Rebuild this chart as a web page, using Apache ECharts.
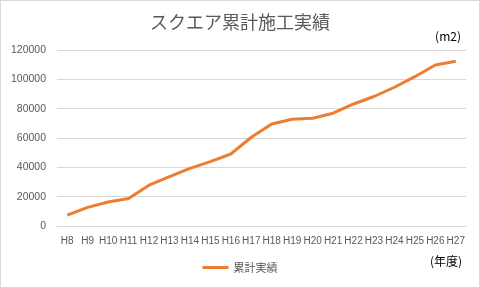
<!DOCTYPE html>
<html><head><meta charset="utf-8">
<script src="https://cdn.jsdelivr.net/npm/echarts@6/dist/echarts.min.js"></script>
<style>
html,body{margin:0;padding:0;background:#fff;}
#c{position:absolute;left:0;top:0;width:478px;height:286px;border:1px solid #d9d9d9;}
</style></head>
<body><div id="c"></div>
<script>
var categories = ['H8','H9','H10','H11','H12','H13','H14','H15','H16','H17','H18','H19','H20','H21','H22','H23','H24','H25','H26','H27'];
var cumulative = [7400,12700,16400,18800,27800,33600,39300,43900,49100,60500,69500,72800,73500,76900,83200,88300,94600,101800,109800,112300];
var seriesName = '累計実績';
var titleText = 'スクエア累計施工実績';
var yUnit = '(m2)';
var xUnit = '(年度)';

var chart = echarts.init(document.getElementById('c'), null, {renderer:'canvas'});
var font = '"Noto Sans CJK JP","Noto Sans",sans-serif';
chart.setOption({
  animation:false,
  textStyle:{fontFamily:font},
  title:{text:titleText,left:'center',top:7,textStyle:{fontSize:18,fontWeight:'normal',color:'#595959',fontFamily:font}},
  grid:{left:56,right:13,top:49,bottom:61},
  legend:{data:[seriesName],bottom:9,left:'center',itemWidth:26,itemHeight:3,icon:'rect',textStyle:{fontSize:11,color:'#595959'}},
  graphic:[
    {type:'text',right:18,top:29,style:{text:yUnit,fontSize:12,fill:'#000',fontFamily:font}},
    {type:'text',right:17,top:254,style:{text:xUnit,fontSize:12,fill:'#000',fontFamily:font}}
  ],
  xAxis:{type:'category',data:categories,boundaryGap:true,
    axisLine:{lineStyle:{color:'#d9d9d9'}},axisTick:{show:false},
    axisLabel:{interval:0,fontSize:10,color:'#595959',margin:10,fontFamily:'"Liberation Sans",sans-serif'}},
  yAxis:{type:'value',min:0,max:120000,interval:20000,
    axisLine:{show:false},axisTick:{show:false},
    splitLine:{lineStyle:{color:'#d9d9d9'}},
    axisLabel:{fontSize:10.5,color:'#595959',margin:11,fontFamily:'"Liberation Sans",sans-serif',
      formatter:function(v){return String(v);}}},
  series:[{name:seriesName,type:'line',data:cumulative,symbol:'none',
    lineStyle:{color:'#ED7D31',width:3},itemStyle:{color:'#ED7D31'}}]
});
</script></body></html>
